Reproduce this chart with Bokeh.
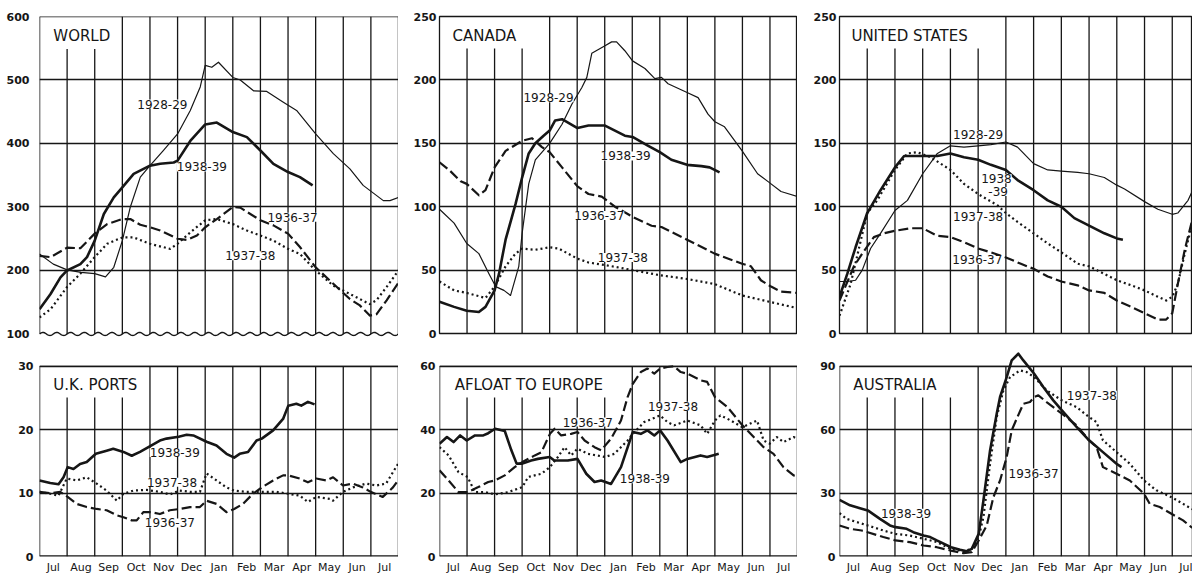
import numpy as np
from bokeh.plotting import figure
from bokeh.layouts import row, column
from bokeh.models import Range1d, FixedTicker, Label
from bokeh.embed import file_html
from bokeh.resources import INLINE

# ---------------- data (x = months since start of July) ----------------
months = ["Jul", "Aug", "Sep", "Oct", "Nov", "Dec", "Jan", "Feb", "Mar", "Apr", "May", "Jun", "Jul"]

# WORLD
world_x_2829 = [0, 0.5, 1.0, 1.5, 2.0, 2.39, 2.69, 3.0, 3.29, 3.65, 4.0, 4.49, 5.0, 5.46, 5.82, 6.0, 6.24, 6.48, 7.0, 7.27, 7.75, 8.23, 8.83, 9.31, 10.0, 10.64, 11.24, 11.72, 12.45, 12.69, 13.0]
world_y_2829 = [226, 210, 201, 197, 195, 190, 205, 247, 300, 347, 365, 389, 415, 452, 489, 523, 520, 528, 504, 500, 483, 482, 465, 452, 415, 384, 360, 334, 310, 310, 315]
world_x_3839 = [0, 0.4, 0.76, 1.0, 1.48, 1.72, 2.0, 2.33, 2.69, 3.0, 3.41, 4.0, 4.37, 4.86, 5.0, 5.46, 6.0, 6.42, 7.0, 7.51, 8.0, 8.47, 9.0, 9.43, 9.89]
world_y_3839 = [139, 163, 189, 200, 210, 221, 247, 289, 315, 331, 352, 365, 368, 370, 373, 404, 430, 433, 418, 410, 389, 368, 355, 347, 334]
world_x_3637 = [0, 0.4, 1.0, 1.48, 2.0, 2.45, 3.0, 3.29, 3.65, 4.0, 4.37, 5.0, 5.34, 5.7, 6.0, 6.42, 7.0, 7.27, 8.0, 8.47, 9.0, 9.43, 10.0, 10.64, 11.24, 11.6, 11.96, 12.2, 12.57, 13.0]
world_y_3637 = [223, 221, 236, 235, 258, 273, 281, 281, 272, 268, 263, 250, 248, 255, 268, 281, 300, 299, 279, 271, 258, 237, 205, 179, 155, 145, 129, 131, 153, 181]
world_x_3738 = [0, 0.4, 1.0, 1.48, 2.0, 2.45, 3.0, 3.41, 4.0, 4.73, 5.0, 5.46, 6.0, 6.42, 7.0, 7.51, 8.0, 8.47, 9.0, 9.43, 10.0, 10.64, 11.24, 11.96, 12.2, 12.57, 13.0]
world_y_3738 = [126, 139, 174, 195, 221, 242, 252, 252, 242, 234, 242, 260, 279, 281, 273, 263, 255, 247, 234, 226, 200, 176, 163, 147, 153, 174, 200]

# CANADA
canada_x_2829 = [0, 0.53, 0.99, 1.43, 1.80, 2.04, 2.34, 2.58, 2.88, 3.0, 3.24, 3.48, 4.0, 4.45, 4.81, 5.17, 5.35, 5.53, 6.01, 6.25, 6.43, 6.73, 7.01, 7.46, 7.82, 8.06, 8.30, 8.99, 9.39, 9.75, 10.0, 10.35, 10.99, 11.55, 11.98, 12.4, 13.0]
canada_y_2829 = [98, 87, 71, 63, 47, 37, 34, 30, 53, 79, 118, 137, 150, 165, 181, 194, 202, 221, 227, 230, 230, 223, 215, 209, 201, 202, 197, 190, 186, 173, 167, 163, 144, 126, 119, 112, 108]
canada_x_3839 = [0, 0.53, 0.99, 1.43, 1.67, 2.0, 2.16, 2.4, 2.76, 3.0, 3.24, 3.48, 3.78, 4.0, 4.2, 4.45, 5.01, 5.41, 6.01, 6.37, 6.73, 7.01, 7.58, 8.0, 8.42, 8.99, 9.51, 9.81, 10.17]
canada_y_3839 = [25, 21, 18, 17, 21, 34, 47, 74, 102, 123, 142, 150, 156, 160, 168, 169, 162, 164, 164, 160, 156, 155, 148, 143, 137, 133, 132, 131, 127]
canada_x_3637 = [0, 0.35, 0.77, 0.99, 1.43, 1.67, 2.0, 2.4, 3.0, 3.36, 3.72, 4.0, 4.45, 5.01, 5.41, 5.89, 6.37, 7.01, 7.7, 8.06, 8.99, 9.99, 10.99, 11.31, 11.67, 12.04, 12.4, 13.0]
canada_y_3637 = [135, 129, 120, 118, 109, 113, 131, 144, 152, 154, 147, 143, 131, 116, 110, 108, 100, 92, 85, 84, 74, 63, 55, 53, 42, 37, 33, 32]
canada_x_3738 = [0, 0.53, 0.99, 1.67, 2.0, 2.4, 2.76, 3.0, 3.48, 4.0, 4.33, 5.01, 5.41, 6.01, 7.01, 8.0, 8.99, 9.99, 10.99, 11.98, 13.0]
canada_y_3738 = [41, 34, 32, 28, 37, 53, 63, 67, 66, 68, 67, 59, 56, 54, 50, 46, 43, 39, 30, 25, 20]

# UNITED STATES
us_x_2829 = [0, 0.28, 0.58, 0.82, 1.12, 1.48, 2.0, 2.45, 3.0, 3.53, 4.0, 4.49, 5.0, 5.46, 6.0, 6.42, 7.0, 7.51, 8.0, 8.59, 9.0, 9.55, 10.0, 10.28, 11.0, 11.48, 12.0, 12.2, 12.57, 12.8]
us_y_2829 = [41, 41, 42, 50, 67, 79, 97, 105, 126, 142, 148, 147, 148, 149, 151, 147, 134, 129, 128, 127, 126, 123, 117, 114, 104, 98, 94, 95, 105, 116]
us_x_3839 = [0, 0.28, 0.58, 1.0, 1.48, 2.0, 2.33, 3.0, 3.53, 4.0, 4.49, 5.0, 5.46, 6.0, 6.42, 7.0, 7.51, 8.0, 8.47, 9.0, 9.55, 10.0, 10.22]
us_y_3839 = [29, 47, 68, 95, 113, 131, 140, 140, 140, 142, 139, 137, 133, 129, 121, 113, 105, 100, 91, 85, 79, 75, 74]
us_x_3738 = [0, 0.4, 1.0, 1.36, 2.0, 2.45, 2.81, 3.29, 4.0, 4.49, 5.0, 5.7, 6.0, 6.42, 7.0, 7.51, 8.0, 8.59, 9.0, 9.55, 10.0, 10.52, 11.0, 11.48, 11.78, 12.0, 12.2, 12.45, 12.69, 12.8]
us_y_3738 = [14, 39, 95, 105, 129, 142, 143, 139, 129, 118, 110, 101, 95, 88, 79, 71, 64, 55, 53, 47, 42, 38, 34, 29, 26, 29, 39, 63, 84, 95]
us_x_3637 = [0, 0.52, 0.82, 1.24, 1.6, 2.0, 2.57, 3.0, 3.53, 4.0, 4.49, 5.0, 5.46, 6.0, 6.54, 7.0, 7.51, 8.0, 8.59, 9.0, 9.55, 10.0, 10.52, 11.0, 11.48, 11.78, 12.0, 12.2, 12.45, 12.69, 12.8]
us_y_3637 = [26, 53, 63, 76, 79, 81, 83, 83, 77, 76, 72, 67, 64, 60, 55, 51, 45, 41, 38, 34, 32, 26, 21, 16, 11, 11, 16, 39, 66, 87, 95]

# U.K. PORTS
uk_x_3839 = [0, 0.39, 0.69, 0.87, 1.02, 1.23, 1.47, 1.71, 2.04, 2.43, 2.67, 3.04, 3.34, 3.64, 4.04, 4.36, 4.6, 5.04, 5.33, 5.57, 6.05, 6.41, 6.77, 7.05, 7.25, 7.55, 7.86, 8.05, 8.46, 8.82, 9.01, 9.3, 9.48, 9.72, 9.96]
uk_y_3839 = [12.0, 11.6, 11.4, 12.5, 14.1, 13.8, 14.6, 14.9, 16.2, 16.7, 17.0, 16.5, 15.9, 16.5, 17.5, 18.3, 18.6, 18.9, 19.2, 19.1, 18.1, 17.5, 16.2, 15.6, 16.2, 16.5, 18.3, 18.6, 19.9, 21.7, 23.8, 24.1, 23.8, 24.4, 24.0]
uk_x_3738 = [0, 0.39, 0.69, 0.99, 1.35, 1.71, 2.07, 2.43, 2.8, 3.04, 3.4, 3.88, 4.36, 4.72, 5.08, 5.45, 5.81, 6.05, 6.41, 6.77, 7.05, 7.49, 8.05, 8.58, 9.01, 9.42, 9.72, 10.02, 10.51, 10.63, 10.99, 11.35, 11.83, 12.19, 12.55, 12.98]
uk_y_3738 = [10.2, 9.9, 9.6, 12.3, 12.0, 12.5, 11.5, 10.4, 8.8, 9.9, 10.4, 10.5, 10.2, 9.8, 10.4, 10.2, 10.2, 13.1, 12.0, 10.9, 10.4, 10.2, 10.2, 10.2, 9.9, 9.6, 8.6, 9.4, 9.1, 8.8, 10.2, 10.9, 11.5, 11.2, 11.5, 14.6]
uk_x_3637 = [0, 0.39, 0.75, 1.02, 1.35, 1.71, 2.07, 2.43, 2.8, 3.04, 3.34, 3.52, 3.76, 4.04, 4.36, 4.72, 5.08, 5.45, 5.81, 6.05, 6.41, 6.77, 7.05, 7.37, 7.73, 8.05, 8.46, 8.82, 9.01, 9.42, 9.72, 10.02, 10.39, 10.63, 10.99, 11.35, 11.71, 11.99, 12.43, 12.8, 12.98]
uk_y_3637 = [10.2, 10.0, 10.2, 9.4, 8.3, 7.8, 7.5, 7.3, 6.5, 6.2, 5.7, 5.7, 7.0, 7.0, 6.7, 7.3, 7.5, 7.8, 7.8, 8.8, 8.3, 7.0, 7.5, 8.3, 9.9, 10.9, 12.0, 12.8, 12.8, 12.3, 11.7, 12.3, 12.0, 12.5, 11.2, 11.5, 10.9, 10.2, 9.4, 10.9, 12.0]

# AFLOAT TO EUROPE
afloat_x_3839 = [0, 0.27, 0.51, 0.75, 0.99, 1.29, 1.59, 1.77, 2.02, 2.37, 2.61, 2.8, 3.01, 3.33, 3.57, 4.0, 4.17, 4.66, 5.01, 5.33, 5.63, 5.87, 6.23, 6.59, 7.02, 7.31, 7.55, 7.8, 8.01, 8.28, 8.76, 9.0, 9.48, 9.72, 10.14]
afloat_y_3839 = [35.6, 37.7, 36.1, 38.2, 36.6, 38.2, 38.2, 38.9, 40.3, 39.6, 33.5, 29.3, 29.3, 30.3, 30.8, 31.4, 30.3, 30.3, 30.8, 26.1, 23.5, 24.0, 22.9, 28.2, 39.3, 38.7, 39.8, 38.2, 39.8, 36.6, 29.8, 30.8, 31.9, 31.4, 32.4]
afloat_x_3637 = [0, 0.33, 0.69, 1.02, 1.41, 1.77, 2.02, 2.37, 2.73, 3.01, 3.46, 3.7, 4.01, 4.18, 4.42, 4.78, 5.01, 5.27, 5.63, 5.87, 6.23, 6.59, 6.83, 7.02, 7.31, 7.55, 7.8, 8.01, 8.28, 8.52, 8.76, 9.0, 9.48, 9.72, 10.0, 10.45, 11.0, 11.41, 11.77, 12.13, 12.49, 12.86, 13.0]
afloat_y_3637 = [27.2, 24.0, 20.3, 20.3, 21.9, 23.5, 24.0, 25.6, 28.2, 29.8, 31.9, 32.9, 38.7, 40.3, 38.2, 38.7, 39.3, 36.6, 34.5, 33.5, 37.2, 42.9, 50.3, 54.5, 58.2, 59.3, 57.7, 59.3, 59.8, 60.0, 58.2, 57.7, 55.6, 55.1, 50.3, 47.2, 41.4, 37.7, 34.5, 32.4, 28.2, 25.6, 25.4]
afloat_x_3738 = [0, 0.33, 0.69, 1.02, 1.29, 1.65, 2.02, 2.49, 3.01, 3.22, 3.7, 4.01, 4.3, 4.54, 4.78, 5.01, 5.39, 6.01, 6.35, 6.83, 7.02, 7.43, 8.01, 8.28, 8.52, 9.0, 9.48, 9.72, 10.0, 10.2, 10.45, 11.0, 11.53, 11.77, 11.99, 12.25, 12.49, 12.86, 13.0]
afloat_y_3738 = [34.5, 31.9, 26.6, 25.1, 20.3, 20.3, 19.6, 20.3, 21.9, 25.1, 26.1, 28.2, 31.4, 34.5, 31.9, 34.0, 32.4, 31.4, 32.4, 36.6, 38.7, 42.4, 44.5, 42.4, 41.4, 42.9, 41.4, 38.7, 42.9, 44.5, 43.5, 40.8, 42.9, 36.6, 35.6, 37.7, 36.1, 37.7, 37.2]

# AUSTRALIA
aus_x_3839 = [0, 0.38, 0.8, 1.02, 1.46, 1.82, 2.02, 2.42, 2.66, 3.03, 3.27, 3.51, 4.02, 4.35, 4.59, 4.77, 5.02, 5.19, 5.43, 5.67, 5.79, 6.03, 6.21, 6.45, 6.63, 7.02, 7.35, 7.71, 8.02, 8.55, 9.0, 9.5, 9.99, 10.17]
aus_y_3839 = [26.8, 24.2, 22.6, 21.8, 17.8, 14.7, 13.9, 13.1, 11.5, 9.9, 9.2, 7.6, 4.4, 3.2, 2.5, 3.6, 10.7, 26.5, 50.2, 67.6, 75.5, 84.9, 92.8, 96.0, 92.8, 86.5, 80.2, 73.9, 69.2, 61.3, 55.0, 49.4, 43.9, 42.3]
aus_x_3738 = [0, 0.26, 0.62, 1.02, 1.58, 2.02, 2.54, 3.03, 3.51, 4.02, 4.47, 4.77, 5.02, 5.19, 5.43, 5.67, 5.91, 6.15, 6.51, 6.75, 7.02, 7.47, 7.83, 8.02, 8.55, 9.0, 9.27, 9.5, 9.99, 10.47, 10.98, 11.43, 11.97, 12.39, 12.69, 12.8]
aus_y_3738 = [20.5, 17.8, 16.3, 14.7, 12.3, 10.7, 9.9, 8.4, 6.8, 3.6, 2.5, 3.6, 9.2, 18.6, 43.9, 66.0, 78.6, 84.9, 88.1, 87.3, 84.9, 78.6, 75.5, 73.9, 70.7, 66.0, 63.6, 55.0, 49.4, 43.9, 36.0, 31.3, 28.1, 24.9, 22.6, 22.0]
aus_x_3637 = [0, 0.38, 0.8, 1.02, 1.58, 2.02, 2.54, 3.03, 3.51, 4.02, 4.47, 4.77, 5.02, 5.31, 5.55, 5.79, 6.03, 6.21, 6.39, 6.63, 6.87, 7.02, 7.17, 7.47, 8.02, 8.55, 9.0, 9.27, 9.5, 9.99, 10.47, 10.98, 11.19, 11.55, 11.97, 12.39, 12.69, 12.8]
aus_y_3637 = [14.7, 13.1, 12.3, 11.5, 9.2, 7.6, 6.8, 5.2, 4.4, 2.8, 1.6, 2.1, 7.6, 14.7, 28.1, 36.0, 47.1, 59.7, 65.2, 72.3, 73.1, 75.5, 76.3, 73.1, 67.6, 62.1, 55.0, 51.8, 42.3, 39.2, 36.0, 29.7, 24.9, 23.4, 20.2, 17.1, 13.9, 13.2]

# tick values
world_ticks = [100, 200, 300, 400, 500, 600]
canada_ticks = [0, 50, 100, 150, 200, 250]
us_ticks = [0, 50, 100, 150, 200, 250]
uk_ticks = [0, 10, 20, 30]
afloat_ticks = [0, 20, 40, 60]
aus_ticks = [0, 30, 60, 90]

# ---------------- styling ----------------
INK = "#161616"
FONT = "DejaVu Sans"
STYLE = {
    "1928-29": dict(line_width=1.2),
    "1938-39": dict(line_width=2.6),
    "1936-37": dict(line_width=2.2, line_dash="10 4"),
    "1937-38": dict(line_width=2.2, line_dash="2 3"),
}
HEAD = 97.5 / 90.0   # bottom row: room above the frame for the Australian peak


def panel(series, labels, title, title_xy, yticks, ylim, xmax, n_short, short_top,
          frame_w, frame_h, borders, standoff, show_months, frame_ytop=None, wave=False):
    p = figure(x_range=Range1d(0, xmax), y_range=Range1d(*ylim),
               frame_width=frame_w, frame_height=frame_h,
               min_border_left=borders[0], min_border_right=borders[1],
               min_border_top=borders[2], min_border_bottom=borders[3],
               output_backend="svg", toolbar_location=None,
               background_fill_color="white", border_fill_color="white")
    ybot = yticks[0]
    ytop = yticks[-1] if frame_ytop is None else frame_ytop
    manual_frame = wave or (frame_ytop is not None)
    if manual_frame:
        p.outline_line_color = None
    else:
        p.outline_line_color = INK
        p.outline_line_width = 1.3

    # grids
    p.xgrid.visible = False
    p.ygrid.ticker = FixedTicker(ticks=[t for t in yticks if t != ybot])
    p.ygrid.grid_line_color = INK
    p.ygrid.grid_line_width = 1.3

    # month boundaries (vertical rules)
    bounds = [i for i in range(1, len(months)) if i < xmax]
    tops = [short_top if i <= n_short else ytop for i in bounds]
    p.segment(x0=bounds, y0=[ybot] * len(bounds), x1=bounds, y1=tops,
              line_color=INK, line_width=1.3)

    if manual_frame:
        p.segment(x0=[0, xmax], y0=[ybot, ybot], x1=[0, xmax], y1=[ytop, ytop],
                  line_color=INK, line_width=1.5)
        p.segment(x0=[0], y0=[ytop], x1=[xmax], y1=[ytop], line_color=INK, line_width=1.3)
        if not wave:
            p.segment(x0=[0], y0=[ybot], x1=[xmax], y1=[ybot], line_color=INK, line_width=2.4)
    if wave:
        wx = np.linspace(0, xmax, 600)
        wy = ybot + 2.4 * np.sin(2 * np.pi * wx * 2.0)
        p.line(wx, wy, line_color=INK, line_width=1.4)

    for name, (xs, ys) in series.items():
        p.line(xs, ys, line_color=INK, line_join="round", **STYLE[name])

    for text, lx, ly in labels:
        p.add_layout(Label(x=lx, y=ly, text=text, text_align="center", text_baseline="middle",
                           text_font=FONT, text_font_size="12px", text_color=INK,
                           background_fill_color="white"))
    p.add_layout(Label(x=title_xy[0], y=title_xy[1], text=title, text_align="left",
                       text_baseline="middle", text_font=FONT, text_font_size="15px",
                       text_color=INK))

    # y axis
    p.yaxis.ticker = FixedTicker(ticks=yticks)
    p.yaxis.axis_line_color = None
    p.yaxis.major_tick_line_color = None
    p.yaxis.minor_tick_line_color = None
    p.yaxis.major_tick_out = 0
    p.yaxis.major_tick_in = 0
    p.yaxis.minor_tick_out = 0
    p.yaxis.major_label_standoff = standoff
    p.yaxis.major_label_text_font = FONT
    p.yaxis.major_label_text_font_size = "11px"
    p.yaxis.major_label_text_font_style = "bold"
    p.yaxis.major_label_text_color = INK

    # x axis
    if show_months:
        centers = [i + 0.5 for i in range(len(months))]
        p.xaxis.ticker = FixedTicker(ticks=centers)
        p.xaxis.major_label_overrides = {c: m for c, m in zip(centers, months)}
        p.xaxis.axis_line_color = None
        p.xaxis.major_tick_line_color = None
        p.xaxis.minor_tick_line_color = None
        p.xaxis.major_tick_out = 0
        p.xaxis.major_tick_in = 0
        p.xaxis.minor_tick_out = 0
        p.xaxis.major_label_standoff = 4
        p.xaxis.major_label_text_font = FONT
        p.xaxis.major_label_text_font_size = "11px"
        p.xaxis.major_label_text_color = INK
    else:
        p.xaxis.visible = False
    return p


XR = 12.73  # right-hand column is cut at the page edge

f1 = panel({"1928-29": (world_x_2829, world_y_2829), "1938-39": (world_x_3839, world_y_3839),
            "1936-37": (world_x_3637, world_y_3637), "1937-38": (world_x_3738, world_y_3738)},
           [("1928-29", 4.45, 462), ("1938-39", 5.88, 363), ("1936-37", 9.16, 284), ("1937-38", 7.63, 223)],
           "WORLD", (0.5, 570), world_ticks, (96, 600), 13, 2, 549,
           359, 320, (39, 0, 16, 7), 10, False, wave=True)
f2 = panel({"1928-29": (canada_x_2829, canada_y_2829), "1938-39": (canada_x_3839, canada_y_3839),
            "1936-37": (canada_x_3637, canada_y_3637), "1937-38": (canada_x_3738, canada_y_3738)},
           [("1928-29", 3.96, 186), ("1938-39", 6.76, 140), ("1936-37", 5.8, 93), ("1937-38", 6.66, 60)],
           "CANADA", (0.47, 235), canada_ticks, (0, 250), 13, 3, 224.8,
           358, 317, (41, 0, 16, 10), 3, False)
f3 = panel({"1928-29": (us_x_2829, us_y_2829), "1938-39": (us_x_3839, us_y_3839),
            "1936-37": (us_x_3637, us_y_3637), "1937-38": (us_x_3738, us_y_3738)},
           [("1928-29", 5.0, 157), ("1938", 5.66, 122), ("-39", 5.72, 112),
            ("1937-38", 5.0, 92), ("1936-37", 4.97, 58)],
           "UNITED STATES", (0.43, 235), us_ticks, (0, 250), XR, 5, 224.8,
           353, 317, (42, 0, 16, 10), 3, False)

f4 = panel({"1938-39": (uk_x_3839, uk_y_3839), "1936-37": (uk_x_3637, uk_y_3637),
            "1937-38": (uk_x_3738, uk_y_3738)},
           [("1938-39", 4.9, 16.4), ("1937-38", 4.8, 11.7), ("1936-37", 4.72, 5.3)],
           "U.K. PORTS", (0.5, 27), uk_ticks, (0, 30 * HEAD), 13, 3, 25.1,
           359, 206, (39, 0, 7, 18), 6, True, frame_ytop=30)
f5 = panel({"1938-39": (afloat_x_3839, afloat_y_3839), "1936-37": (afloat_x_3637, afloat_y_3637),
            "1937-38": (afloat_x_3738, afloat_y_3738)},
           [("1936-37", 5.39, 42.4), ("1937-38", 8.48, 47.4), ("1938-39", 7.46, 24.5)],
           "AFLOAT TO EUROPE", (0.55, 54), afloat_ticks, (0, 60 * HEAD), 13, 6, 50.2,
           358, 206, (41, 0, 7, 18), 4, True, frame_ytop=60)
f6 = panel({"1938-39": (aus_x_3839, aus_y_3839), "1936-37": (aus_x_3637, aus_y_3637),
            "1937-38": (aus_x_3738, aus_y_3738)},
           [("1938-39", 2.4, 20.5), ("1937-38", 9.1, 76.3), ("1936-37", 7.0, 39.5)],
           "AUSTRALIA", (0.5, 81), aus_ticks, (0, 90 * HEAD), XR, 4, 75.3,
           353, 206, (42, 0, 7, 18), 4, True, frame_ytop=90)

layout = column(row(f1, f2, f3), row(f4, f5, f6))
open("out.html", "w").write(file_html(layout, INLINE))
